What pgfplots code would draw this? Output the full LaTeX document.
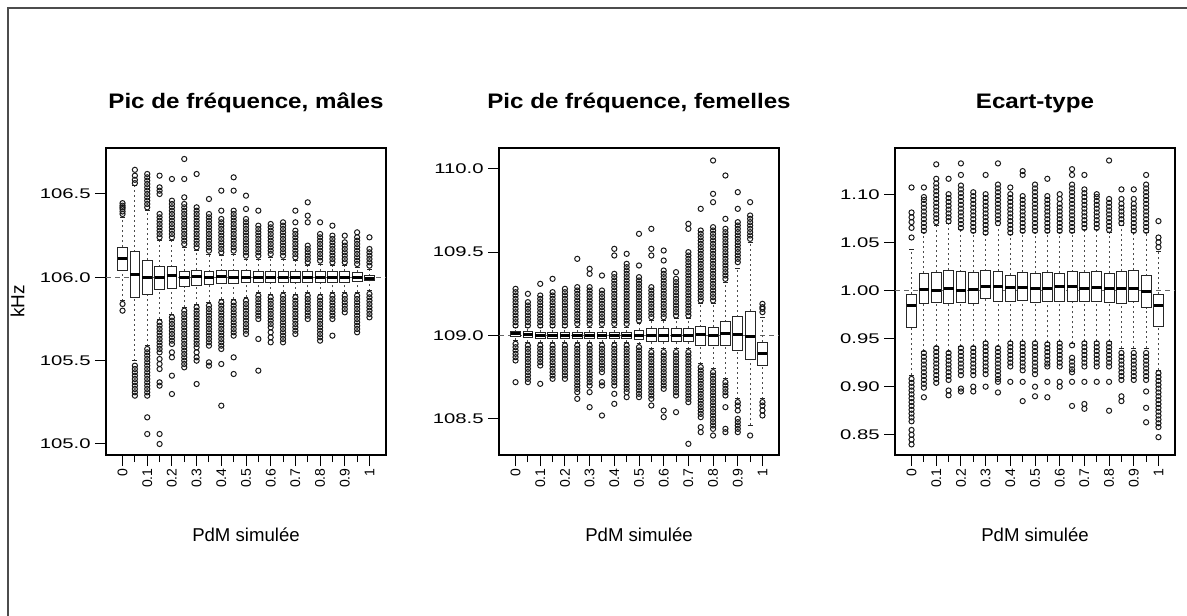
\documentclass[border=0pt]{standalone}
\usepackage{fontspec}
\setmainfont{Liberation Sans}
\newfontfamily\stf[FakeStretch=1.45]{Liberation Sans}
\newfontfamily\ttlf[FakeStretch=1.15]{Liberation Sans}
\usepackage{pgfplots}
\pgfplotsset{compat=1.18}
\usepgfplotslibrary{statistics}
\pgfplotsset{
  bxs/.style={black!85, line width=0.45bp, mark=o, mark size=1.3bp,
    mark options={line width=0.5bp, solid, black!90},
    boxplot/draw direction=y,
    boxplot/box extend=0.8, boxplot/whisker extend=0.4,
    boxplot/every box/.style={fill=white},
    boxplot/every median/.style={line width=1.5bp, black},
    boxplot/draw/lower whisker/.code={%
      \draw[dash pattern=on 1bp off 1.5bp, black!70] (boxplot box cs:\pgfplotsboxplotvalue{lower whisker},0.5) -- (boxplot box cs:\pgfplotsboxplotvalue{lower quartile},0.5);
      \draw (boxplot whisker cs:\pgfplotsboxplotvalue{lower whisker},0) -- (boxplot whisker cs:\pgfplotsboxplotvalue{lower whisker},1);},
    boxplot/draw/upper whisker/.code={%
      \draw[dash pattern=on 1bp off 1.5bp, black!70] (boxplot box cs:\pgfplotsboxplotvalue{upper quartile},0.5) -- (boxplot box cs:\pgfplotsboxplotvalue{upper whisker},0.5);
      \draw (boxplot whisker cs:\pgfplotsboxplotvalue{upper whisker},0) -- (boxplot whisker cs:\pgfplotsboxplotvalue{upper whisker},1);},
  },
  pan/.style={
    scale only axis, width=140bp, height=153.5bp, anchor=south west,
    xmin=-0.34, xmax=22.34,
    xtick={1,3,...,21}, xticklabels={0,0.1,0.2,0.3,0.4,0.5,0.6,0.7,0.8,0.9,1},
    minor xtick={2,4,...,20},
    tick align=outside, xtick pos=left, ytick pos=left,
    major tick length=5.5bp, minor tick length=3.5bp,
    every tick/.style={black, line width=0.5bp},
    axis line style={line width=0.8bp, black},
    xticklabel style={rotate=90, anchor=east, inner sep=1bp, font=\fontsize{7bp}{8bp}\selectfont},
    yticklabel style={inner sep=2bp, font=\stf\fontsize{7bp}{8bp}\selectfont},
    /pgf/number format/assume math mode=true,
    /pgf/number format/1000 sep={},
    every axis title/.style={at={(0.5,1)}, anchor=base, yshift=19.5bp, font=\ttlf\bfseries\fontsize{10.5bp}{12bp}\selectfont},
    every axis x label/.style={at={(0.5,0)}, anchor=base, yshift=-43bp, font=\fontsize{9.3bp}{11bp}\selectfont},
    xlabel={PdM simulée},
  },
  refl/.style={black!60, line width=0.4bp, dash pattern=on 2.5bp off 2bp},
}
\newcommand\bx[7]{\addplot[bxs, boxplot prepared={draw position=#1, lower whisker=#2, lower quartile=#3, median=#4, upper quartile=#5, upper whisker=#6}] table[row sep=\\, y index=0] {#7};}
\begin{document}
\begin{tikzpicture}
\useasboundingbox (0,0) rectangle (593.5bp,308bp);
\draw[line width=0.6bp, black!70] (593.5bp,304bp) -- (4bp,304bp) -- (4bp,0bp);
% ---------------- Panel 1
\begin{axis}[pan, at={(53bp,80.5bp)}, ymin=104.934, ymax=106.776,
  ytick={105,105.5,106,106.5},
  yticklabel style={/pgf/number format/.cd, fixed, fixed zerofill, precision=1},
  title={Pic de fréquence, mâles},
  ylabel={kHz},
  every axis y label/.style={at={(-0.316,0.5)}, rotate=90, anchor=center, font=\fontsize{9.5bp}{11bp}\selectfont}]
\addplot[refl] coordinates {(-0.34,106) (22.34,106)};
\bx{1}{105.86}{106.044}{106.114}{106.18}{106.36}{106.38\\106.395\\106.41\\106.42\\106.43\\106.445\\105.84\\105.80\\}
\bx{2}{105.50}{105.878}{106.018}{106.154}{106.55}{106.565\\106.585\\106.61\\106.645\\105.47\\105.45\\105.43\\105.41\\105.39\\105.37\\105.35\\105.33\\105.31\\105.29\\}
\bx{3}{105.59}{105.90}{106.0}{106.104}{106.40}{106.42\\106.44\\106.46\\106.48\\106.50\\106.52\\106.54\\106.56\\106.58\\106.60\\106.62\\105.57\\105.55\\105.53\\105.51\\105.49\\105.47\\105.45\\105.43\\105.41\\105.39\\105.37\\105.35\\105.33\\105.31\\105.29\\105.16\\105.06\\}
\bx{4}{105.75}{105.93}{106.0}{106.064}{106.22}{106.24\\106.26\\106.28\\106.30\\106.32\\106.34\\106.36\\106.38\\106.50\\106.52\\106.54\\106.61\\105.73\\105.71\\105.69\\105.67\\105.65\\105.63\\105.61\\105.59\\105.57\\105.55\\105.51\\105.48\\105.45\\105.37\\105.35\\105.06\\105.00\\}
\bx{5}{105.78}{105.934}{106.008}{106.064}{106.22}{106.24\\106.26\\106.28\\106.30\\106.32\\106.34\\106.36\\106.38\\106.40\\106.42\\106.44\\106.46\\106.59\\105.76\\105.74\\105.72\\105.70\\105.68\\105.66\\105.64\\105.62\\105.60\\105.55\\105.52\\105.41\\105.30\\}
\bx{6}{105.82}{105.944}{106.0}{106.038}{106.18}{106.20\\106.22\\106.24\\106.26\\106.28\\106.30\\106.32\\106.34\\106.36\\106.38\\106.40\\106.42\\106.44\\106.48\\106.59\\106.71\\105.80\\105.78\\105.76\\105.74\\105.72\\105.70\\105.68\\105.66\\105.64\\105.62\\105.60\\105.58\\105.56\\105.54\\105.52\\105.50\\105.48\\105.46\\}
\bx{7}{105.84}{105.954}{106.005}{106.044}{106.16}{106.18\\106.20\\106.22\\106.24\\106.26\\106.28\\106.30\\106.32\\106.34\\106.36\\106.38\\106.40\\106.42\\106.62\\105.82\\105.80\\105.78\\105.76\\105.74\\105.72\\105.70\\105.68\\105.66\\105.64\\105.62\\105.60\\105.58\\105.55\\105.52\\105.50\\105.36\\}
\bx{8}{105.85}{105.958}{106.0}{106.034}{106.14}{106.16\\106.18\\106.20\\106.22\\106.24\\106.26\\106.28\\106.30\\106.32\\106.34\\106.36\\106.38\\106.47\\105.83\\105.81\\105.79\\105.77\\105.75\\105.73\\105.71\\105.69\\105.67\\105.65\\105.63\\105.61\\105.59\\105.49\\105.47\\}
\bx{9}{105.87}{105.964}{106.005}{106.04}{106.13}{106.15\\106.17\\106.19\\106.21\\106.23\\106.25\\106.27\\106.29\\106.31\\106.33\\106.35\\106.40\\106.52\\105.85\\105.83\\105.81\\105.79\\105.77\\105.75\\105.73\\105.71\\105.69\\105.67\\105.65\\105.63\\105.61\\105.59\\105.57\\105.48\\105.23\\}
\bx{10}{105.87}{105.964}{106.0}{106.04}{106.14}{106.16\\106.18\\106.20\\106.22\\106.24\\106.26\\106.28\\106.30\\106.32\\106.34\\106.36\\106.38\\106.40\\106.52\\106.60\\105.85\\105.83\\105.81\\105.79\\105.77\\105.75\\105.73\\105.71\\105.69\\105.67\\105.65\\105.52\\105.42\\}
\bx{11}{105.88}{105.968}{106.0}{106.04}{106.11}{106.13\\106.15\\106.17\\106.19\\106.21\\106.23\\106.25\\106.27\\106.29\\106.31\\106.33\\106.35\\106.41\\106.49\\105.86\\105.84\\105.82\\105.80\\105.78\\105.76\\105.74\\105.72\\105.70\\105.68\\105.66\\}
\bx{12}{105.91}{105.97}{106.0}{106.038}{106.11}{106.13\\106.15\\106.17\\106.19\\106.21\\106.23\\106.25\\106.27\\106.29\\106.31\\106.40\\105.89\\105.87\\105.85\\105.83\\105.81\\105.79\\105.77\\105.75\\105.63\\105.44\\}
\bx{13}{105.90}{105.97}{106.0}{106.038}{106.12}{106.14\\106.16\\106.18\\106.20\\106.22\\106.24\\106.26\\106.28\\106.30\\106.32\\105.88\\105.86\\105.84\\105.82\\105.80\\105.78\\105.76\\105.74\\105.72\\105.70\\105.67\\105.64\\105.61\\}
\bx{14}{105.91}{105.97}{106.0}{106.038}{106.11}{106.13\\106.15\\106.17\\106.19\\106.21\\106.23\\106.25\\106.27\\106.29\\106.31\\106.33\\105.89\\105.87\\105.85\\105.83\\105.81\\105.79\\105.77\\105.75\\105.73\\105.71\\105.69\\105.67\\105.65\\105.63\\105.61\\}
\bx{15}{105.90}{105.97}{106.0}{106.038}{106.10}{106.12\\106.14\\106.16\\106.18\\106.20\\106.22\\106.24\\106.26\\106.28\\106.33\\106.40\\105.88\\105.86\\105.84\\105.82\\105.80\\105.78\\105.76\\105.74\\105.72\\105.70\\105.68\\105.66\\}
\bx{16}{105.91}{105.97}{106.0}{106.038}{106.07}{106.09\\106.11\\106.13\\106.15\\106.17\\106.19\\106.33\\106.37\\106.45\\105.89\\105.87\\105.85\\105.83\\105.81\\105.79\\105.77\\105.75\\}
\bx{17}{105.90}{105.97}{106.0}{106.038}{106.08}{106.10\\106.12\\106.14\\106.16\\106.18\\106.20\\106.22\\106.24\\106.26\\106.33\\105.88\\105.86\\105.84\\105.82\\105.80\\105.78\\105.76\\105.74\\105.72\\105.70\\105.68\\105.66\\105.64\\105.62\\}
\bx{18}{105.91}{105.97}{106.0}{106.038}{106.07}{106.09\\106.11\\106.13\\106.15\\106.17\\106.19\\106.21\\106.23\\106.25\\106.31\\105.89\\105.87\\105.85\\105.83\\105.81\\105.79\\105.77\\105.75\\105.65\\}
\bx{19}{105.91}{105.97}{106.0}{106.038}{106.07}{106.09\\106.11\\106.13\\106.15\\106.17\\106.19\\106.21\\106.25\\105.89\\105.87\\105.85\\105.83\\105.81\\105.79\\}
\bx{20}{105.91}{105.975}{106.0}{106.03}{106.06}{106.08\\106.10\\106.12\\106.14\\106.16\\106.18\\106.20\\106.22\\106.24\\106.27\\105.89\\105.87\\105.85\\105.83\\105.81\\105.79\\105.77\\105.75\\105.73\\105.71\\105.69\\105.67\\}
\bx{21}{105.92}{105.98}{105.99}{106.01}{106.05}{106.07\\106.09\\106.11\\106.13\\106.15\\106.17\\106.24\\105.90\\105.88\\105.86\\105.84\\105.82\\105.80\\105.78\\105.76\\}
\end{axis}
% ---------------- Panel 2
\begin{axis}[pan, at={(249.5bp,80.5bp)}, ymin=108.283, ymax=110.125,
  ytick={108.5,109,109.5,110},
  yticklabel style={/pgf/number format/.cd, fixed, fixed zerofill, precision=1},
  title={Pic de fréquence, femelles}]
\addplot[refl] coordinates {(-0.34,109) (22.34,109)};
\bx{1}{108.97}{108.993}{109.013}{109.023}{109.05}{109.06\\109.08\\109.10\\109.12\\109.14\\109.16\\109.18\\109.20\\109.22\\109.24\\109.26\\109.28\\108.95\\108.93\\108.91\\108.89\\108.87\\108.85\\108.72\\}
\bx{2}{108.96}{108.99}{109.005}{109.025}{109.05}{109.06\\109.08\\109.10\\109.12\\109.14\\109.16\\109.18\\109.20\\109.25\\108.94\\108.92\\108.90\\108.88\\108.86\\108.84\\108.82\\108.80\\108.78\\108.76\\108.74\\108.72\\}
\bx{3}{108.96}{108.98}{109.0}{109.02}{109.05}{109.06\\109.08\\109.10\\109.12\\109.14\\109.16\\109.18\\109.20\\109.22\\109.24\\109.31\\108.94\\108.92\\108.90\\108.88\\108.86\\108.84\\108.82\\108.71\\}
\bx{4}{108.96}{108.98}{109.0}{109.02}{109.05}{109.06\\109.08\\109.10\\109.12\\109.14\\109.16\\109.18\\109.20\\109.22\\109.24\\109.26\\109.34\\108.94\\108.92\\108.90\\108.88\\108.86\\108.84\\108.82\\108.80\\108.78\\108.76\\108.74\\}
\bx{5}{108.96}{108.98}{109.0}{109.02}{109.05}{109.06\\109.08\\109.10\\109.12\\109.14\\109.16\\109.18\\109.20\\109.22\\109.24\\109.26\\109.28\\108.94\\108.92\\108.90\\108.88\\108.86\\108.84\\108.82\\108.80\\108.78\\108.76\\108.74\\}
\bx{6}{108.96}{108.98}{109.0}{109.02}{109.05}{109.07\\109.09\\109.11\\109.13\\109.15\\109.17\\109.19\\109.21\\109.23\\109.25\\109.27\\109.29\\109.46\\108.94\\108.92\\108.90\\108.88\\108.86\\108.84\\108.82\\108.80\\108.78\\108.76\\108.74\\108.72\\108.70\\108.68\\108.66\\108.62\\}
\bx{7}{108.96}{108.98}{109.0}{109.02}{109.05}{109.07\\109.09\\109.11\\109.13\\109.15\\109.17\\109.19\\109.21\\109.23\\109.25\\109.27\\109.29\\109.37\\109.40\\108.94\\108.92\\108.90\\108.88\\108.86\\108.84\\108.82\\108.80\\108.78\\108.76\\108.74\\108.72\\108.70\\108.66\\108.57\\}
\bx{8}{108.96}{108.98}{109.0}{109.02}{109.05}{109.07\\109.09\\109.11\\109.13\\109.15\\109.17\\109.19\\109.21\\109.23\\109.25\\109.27\\109.36\\108.94\\108.92\\108.90\\108.88\\108.86\\108.84\\108.82\\108.80\\108.78\\108.72\\108.70\\108.52\\}
\bx{9}{108.96}{108.98}{109.0}{109.02}{109.05}{109.07\\109.09\\109.11\\109.13\\109.15\\109.17\\109.19\\109.21\\109.23\\109.25\\109.27\\109.29\\109.31\\109.33\\109.35\\109.37\\109.48\\109.52\\108.94\\108.92\\108.90\\108.88\\108.86\\108.84\\108.82\\108.80\\108.78\\108.76\\108.74\\108.72\\108.70\\108.65\\108.59\\}
\bx{10}{108.96}{108.98}{109.0}{109.02}{109.05}{109.07\\109.09\\109.11\\109.13\\109.15\\109.17\\109.19\\109.21\\109.23\\109.25\\109.27\\109.29\\109.31\\109.33\\109.35\\109.37\\109.39\\109.41\\109.43\\109.49\\108.94\\108.92\\108.90\\108.88\\108.86\\108.84\\108.82\\108.80\\108.78\\108.76\\108.74\\108.72\\108.70\\108.68\\108.66\\108.63\\}
\bx{11}{108.95}{108.975}{109.0}{109.03}{109.07}{109.09\\109.11\\109.13\\109.15\\109.17\\109.19\\109.21\\109.23\\109.25\\109.27\\109.29\\109.31\\109.33\\109.35\\109.42\\109.61\\108.93\\108.91\\108.89\\108.87\\108.85\\108.83\\108.81\\108.79\\108.77\\108.75\\108.73\\108.71\\108.69\\108.67\\108.65\\108.63\\}
\bx{12}{108.92}{108.963}{109.0}{109.043}{109.09}{109.11\\109.13\\109.15\\109.17\\109.19\\109.21\\109.23\\109.25\\109.27\\109.29\\109.48\\109.52\\109.64\\108.90\\108.88\\108.86\\108.84\\108.82\\108.80\\108.78\\108.76\\108.74\\108.72\\108.70\\108.68\\108.66\\108.64\\108.62\\108.58\\}
\bx{13}{108.92}{108.963}{109.0}{109.043}{109.09}{109.11\\109.13\\109.15\\109.17\\109.19\\109.21\\109.23\\109.25\\109.27\\109.29\\109.31\\109.33\\109.35\\109.37\\109.39\\109.45\\109.51\\108.90\\108.88\\108.86\\108.84\\108.82\\108.80\\108.78\\108.76\\108.74\\108.72\\108.70\\108.68\\108.55\\108.51\\}
\bx{14}{108.92}{108.963}{109.0}{109.043}{109.10}{109.12\\109.14\\109.16\\109.18\\109.20\\109.22\\109.24\\109.26\\109.28\\109.30\\109.32\\109.34\\109.38\\108.90\\108.88\\108.86\\108.84\\108.82\\108.80\\108.78\\108.76\\108.74\\108.72\\108.70\\108.68\\108.66\\108.64\\108.54\\}
\bx{15}{108.92}{108.963}{109.0}{109.043}{109.10}{109.12\\109.14\\109.16\\109.18\\109.20\\109.22\\109.24\\109.26\\109.28\\109.30\\109.32\\109.34\\109.36\\109.38\\109.40\\109.42\\109.44\\109.46\\109.48\\109.50\\109.64\\109.67\\108.90\\108.88\\108.86\\108.84\\108.82\\108.80\\108.78\\108.76\\108.74\\108.72\\108.70\\108.68\\108.66\\108.64\\108.62\\108.60\\108.35\\}
\bx{16}{108.83}{108.943}{109.003}{109.053}{109.19}{109.21\\109.23\\109.25\\109.27\\109.29\\109.31\\109.33\\109.35\\109.37\\109.39\\109.41\\109.43\\109.45\\109.47\\109.49\\109.51\\109.53\\109.55\\109.57\\109.59\\109.61\\109.63\\109.76\\108.81\\108.79\\108.77\\108.75\\108.73\\108.71\\108.69\\108.67\\108.65\\108.63\\108.61\\108.59\\108.57\\108.55\\108.53\\108.51\\108.45\\108.42\\}
\bx{17}{108.80}{108.94}{109.0}{109.05}{109.19}{109.21\\109.23\\109.25\\109.27\\109.29\\109.31\\109.33\\109.35\\109.37\\109.39\\109.41\\109.43\\109.45\\109.47\\109.49\\109.51\\109.53\\109.55\\109.57\\109.59\\109.61\\109.63\\109.65\\109.80\\109.85\\110.05\\108.78\\108.76\\108.74\\108.72\\108.70\\108.68\\108.66\\108.64\\108.62\\108.60\\108.58\\108.56\\108.54\\108.52\\108.50\\108.48\\108.46\\108.44\\108.40\\}
\bx{18}{108.74}{108.943}{109.013}{109.083}{109.32}{109.34\\109.36\\109.38\\109.40\\109.42\\109.44\\109.46\\109.48\\109.50\\109.52\\109.54\\109.56\\109.58\\109.60\\109.62\\109.64\\109.70\\109.96\\108.72\\108.70\\108.68\\108.66\\108.64\\108.57\\108.44\\108.42\\}
\bx{19}{108.62}{108.913}{109.007}{109.113}{109.40}{109.44\\109.46\\109.48\\109.50\\109.52\\109.54\\109.56\\109.58\\109.60\\109.62\\109.64\\109.66\\109.68\\109.76\\109.86\\108.60\\108.58\\108.55\\108.50\\108.48\\108.46\\108.44\\108.42\\}
\bx{20}{108.46}{108.857}{108.993}{109.147}{109.56}{109.58\\109.60\\109.62\\109.64\\109.66\\109.68\\109.70\\109.72\\109.80\\108.40\\}
\bx{21}{108.62}{108.823}{108.893}{108.959}{109.11}{109.14\\109.16\\109.17\\109.19\\108.60\\108.58\\108.55\\108.52\\}
\end{axis}
% ---------------- Panel 3
\begin{axis}[pan, at={(447.5bp,80.5bp)}, ymin=0.829, ymax=1.148,
  ytick={0.85,0.9,0.95,1,1.05,1.1},
  yticklabel style={/pgf/number format/.cd, fixed, fixed zerofill, precision=2},
  title={Ecart-type}]
\addplot[refl] coordinates {(-0.34,1) (22.34,1)};
\bx{1}{0.912}{0.9618}{0.984}{0.9963}{1.043}{1.055\\1.065\\1.071\\1.076\\1.081\\1.107\\0.908\\0.904\\0.900\\0.896\\0.892\\0.888\\0.884\\0.880\\0.876\\0.872\\0.868\\0.864\\0.855\\0.850\\0.845\\0.840\\}
\bx{2}{0.937}{0.986}{1.0007}{1.018}{1.06}{1.062\\1.066\\1.070\\1.074\\1.078\\1.082\\1.086\\1.090\\1.094\\1.097\\1.107\\0.935\\0.931\\0.927\\0.923\\0.919\\0.915\\0.911\\0.907\\0.903\\0.899\\0.889\\}
\bx{3}{0.942}{0.987}{1.0}{1.019}{1.068}{1.071\\1.075\\1.079\\1.083\\1.087\\1.091\\1.095\\1.099\\1.103\\1.107\\1.111\\1.116\\1.131\\0.940\\0.936\\0.932\\0.928\\0.924\\0.920\\0.916\\0.912\\0.908\\0.904\\}
\bx{4}{0.937}{0.986}{1.002}{1.021}{1.07}{1.072\\1.076\\1.080\\1.084\\1.088\\1.092\\1.096\\1.100\\1.116\\0.935\\0.931\\0.927\\0.923\\0.919\\0.915\\0.911\\0.907\\0.896\\0.891\\}
\bx{5}{0.942}{0.987}{1.0}{1.0196}{1.063}{1.065\\1.069\\1.073\\1.077\\1.081\\1.085\\1.089\\1.093\\1.097\\1.101\\1.105\\1.109\\1.120\\1.132\\0.940\\0.936\\0.932\\0.928\\0.924\\0.920\\0.916\\0.912\\0.898\\0.895\\}
\bx{6}{0.942}{0.986}{1.001}{1.019}{1.06}{1.062\\1.066\\1.070\\1.074\\1.078\\1.082\\1.086\\1.090\\1.094\\1.098\\1.102\\0.940\\0.936\\0.932\\0.928\\0.924\\0.920\\0.916\\0.912\\0.900\\0.895\\}
\bx{7}{0.947}{0.992}{1.004}{1.0204}{1.058}{1.060\\1.064\\1.068\\1.072\\1.076\\1.080\\1.084\\1.088\\1.092\\1.096\\1.100\\1.120\\0.945\\0.941\\0.937\\0.933\\0.929\\0.925\\0.921\\0.917\\0.913\\0.900\\}
\bx{8}{0.942}{0.989}{1.004}{1.020}{1.068}{1.070\\1.074\\1.078\\1.082\\1.086\\1.090\\1.094\\1.098\\1.102\\1.106\\1.110\\1.132\\0.940\\0.936\\0.932\\0.928\\0.924\\0.920\\0.916\\0.912\\0.908\\0.905\\0.894\\}
\bx{9}{0.947}{0.989}{1.003}{1.016}{1.058}{1.060\\1.064\\1.068\\1.072\\1.076\\1.080\\1.084\\1.088\\1.092\\1.096\\1.100\\1.107\\0.945\\0.941\\0.937\\0.933\\0.929\\0.925\\0.921\\0.905\\}
\bx{10}{0.947}{0.990}{1.003}{1.019}{1.06}{1.062\\1.066\\1.070\\1.074\\1.078\\1.082\\1.086\\1.090\\1.094\\1.098\\1.120\\1.124\\0.945\\0.941\\0.937\\0.933\\0.929\\0.925\\0.921\\0.917\\0.905\\0.885\\}
\bx{11}{0.947}{0.988}{1.002}{1.018}{1.06}{1.062\\1.066\\1.070\\1.074\\1.078\\1.082\\1.086\\1.090\\1.094\\1.098\\1.102\\1.106\\1.110\\0.945\\0.941\\0.937\\0.933\\0.929\\0.925\\0.921\\0.917\\0.913\\0.900\\0.890\\}
\bx{12}{0.946}{0.989}{1.002}{1.019}{1.06}{1.062\\1.066\\1.070\\1.074\\1.078\\1.082\\1.086\\1.090\\1.094\\1.098\\1.116\\0.944\\0.940\\0.936\\0.932\\0.928\\0.924\\0.921\\0.905\\0.889\\}
\bx{13}{0.947}{0.989}{1.004}{1.018}{1.06}{1.062\\1.066\\1.070\\1.074\\1.078\\1.082\\1.086\\1.090\\1.095\\1.100\\0.945\\0.941\\0.937\\0.933\\0.929\\0.925\\0.921\\0.905\\0.900\\}
\bx{14}{0.945}{0.989}{1.004}{1.0196}{1.06}{1.062\\1.066\\1.070\\1.074\\1.078\\1.082\\1.086\\1.090\\1.094\\1.098\\1.102\\1.106\\1.110\\1.120\\1.126\\0.943\\0.930\\0.926\\0.922\\0.918\\0.915\\0.905\\0.880\\}
\bx{15}{0.947}{0.989}{1.002}{1.019}{1.063}{1.065\\1.069\\1.073\\1.077\\1.081\\1.085\\1.089\\1.093\\1.097\\1.101\\1.105\\1.120\\0.945\\0.941\\0.937\\0.933\\0.929\\0.925\\0.921\\0.905\\0.882\\0.877\\}
\bx{16}{0.947}{0.989}{1.003}{1.0196}{1.063}{1.065\\1.069\\1.073\\1.077\\1.081\\1.085\\1.089\\1.093\\1.097\\1.100\\0.945\\0.941\\0.937\\0.933\\0.929\\0.925\\0.921\\0.905\\}
\bx{17}{0.947}{0.987}{1.002}{1.018}{1.06}{1.063\\1.067\\1.071\\1.075\\1.079\\1.083\\1.087\\1.091\\1.095\\1.135\\0.945\\0.941\\0.937\\0.933\\0.929\\0.925\\0.921\\0.905\\0.875\\}
\bx{18}{0.94}{0.986}{1.002}{1.020}{1.068}{1.070\\1.074\\1.078\\1.082\\1.086\\1.090\\1.095\\1.105\\0.935\\0.931\\0.927\\0.923\\0.919\\0.915\\0.911\\0.907\\0.890\\0.885\\}
\bx{19}{0.94}{0.989}{1.002}{1.021}{1.06}{1.062\\1.066\\1.070\\1.074\\1.078\\1.082\\1.086\\1.090\\1.095\\1.105\\0.935\\0.931\\0.927\\0.923\\0.919\\0.915\\0.911\\0.907\\}
\bx{20}{0.94}{0.982}{0.999}{1.0155}{1.06}{1.062\\1.066\\1.070\\1.074\\1.078\\1.082\\1.086\\1.090\\1.094\\1.098\\1.102\\1.106\\1.110\\1.120\\0.935\\0.931\\0.927\\0.923\\0.919\\0.915\\0.911\\0.907\\0.895\\0.878\\0.863\\}
\bx{21}{0.917}{0.963}{0.984}{0.996}{1.04}{1.045\\1.050\\1.055\\1.072\\0.914\\0.910\\0.906\\0.902\\0.898\\0.894\\0.890\\0.886\\0.882\\0.878\\0.874\\0.870\\0.866\\0.862\\0.858\\0.8475\\}
\end{axis}
\end{tikzpicture}
\end{document}
